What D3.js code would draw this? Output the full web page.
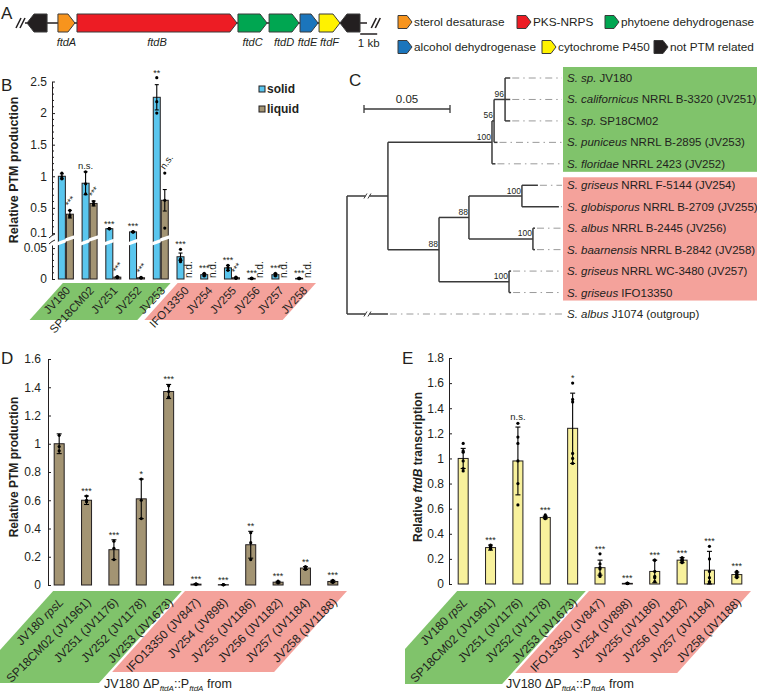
<!DOCTYPE html>
<html><head><meta charset="utf-8">
<script src="https://cdn.jsdelivr.net/npm/d3@7"></script>
<style>
html,body{margin:0;padding:0;background:#fff;}
svg{display:block;}
text{font-family:"Liberation Sans",Arial,Helvetica,sans-serif;fill:#231f20;}
</style></head><body>
<svg id="fig" width="757" height="695"></svg>
<script>
// ================= DATA =================
// Panel A: gene cluster (kb positions)
const geneLabels  = ["", "ftdA", "ftdB", "ftdC", "ftdD", "ftdE", "ftdF", ""];
const geneStartKb = [0, 1.82, 2.94, 12.41, 14.24, 16.06, 17.18, 18.41];
const geneEndKb   = [1.18, 2.82, 12.35, 14.12, 16.0, 17.12, 18.41, 19.59];
const geneStrand  = [-1, 1, 1, 1, 1, 1, 1, -1];
const geneClass   = ["other","sterol","pks","phyto","phyto","alcohol","p450","other"];
const legendClasses = ["sterol","pks","phyto","alcohol","p450","other"];
const legendLabels  = ["sterol desaturase","PKS-NRPS","phytoene dehydrogenase","alcohol dehydrogenase","cytochrome P450","not PTM related"];

// Panel B: relative PTM production, solid vs liquid
const strainsB   = ["JV180","SP18CM02","JV251","JV252","JV253","IFO13350","JV254","JV255","JV256","JV257","JV258"];
const solidB     = [1.0, 0.89, 0.17, 0.12, 2.25, 0.036, 0.007, 0.018, 0.001, 0.007, 0.001];
const solidSdB   = [0.04, 0.18, 0.003, 0.006, 0.2, 0.006, 0.002, 0.004, 0.0005, 0.002, 0.0005];
const solidDotsB = [[1.05,0.99,0.96],[1.07,0.88,0.72],[0.172,0.17,0.168],[0.126,0.12,0.114],[2.56,2.18,2.0],[0.048,0.032,0.028],[0.009,0.007,0.005],[0.022,0.018,0.014],[0.0015,0.001,0.0005],[0.009,0.007,0.005],[0.0015,0.001,0.0005]];
const liquidB    = [0.40, 0.57, 0.003, 0.002, 0.62, null, null, 0.002, null, null, null];
const liquidSdB  = [0.06, 0.04, 0.0008, 0.0005, 0.17, null, null, 0.0008, null, null, null];
const liquidDotsB= [[0.46,0.38,0.36],[0.6,0.56,0.55],[0.004,0.003,0.002],[0.0025,0.002,0.0015],[1.05,0.62,0.18],[],[],[0.003,0.002,0.001],[],[],[]];
const sigSolidB  = ["","n.s.","***","***","**","***","***","***","***","***","***"];
const sigLiquidB = ["***","***","***","***","n.s.","n.d.","n.d.","***","n.d.","n.d.","n.d."];
const ticksBUpper = [0.1, 0.5, 1, 1.5, 2, 2.5];
const ticksBLower = [0, 0.05];
const nativeGroupCount = 5;

// Panel C: tree leaves
const leafItalic = ["S. sp.","S. californicus","S. sp.","S. puniceus","S. floridae","S. griseus","S. globisporus","S. albus","S. baarnensis","S. griseus","S. griseus","S. albus"];
const leafRest   = ["JV180","NRRL B-3320 (JV251)","SP18CM02","NRRL B-2895 (JV253)","NRRL 2423 (JV252)","NRRL F-5144 (JV254)","NRRL B-2709 (JV255)","NRRL B-2445 (JV256)","NRRL B-2842 (JV258)","NRRL WC-3480 (JV257)","IFO13350","J1074 (outgroup)"];
const treeData = {children:[
  {len:0.0238, broken:true, children:[
    {len:0.0605, boot:"100", children:[
      {len:0.0012, boot:"56", children:[
        {len:0.0064, boot:"96", children:[{len:0.003, leaf:0},{len:0.003, leaf:1},{len:0.003, leaf:2}]},
        {len:0.002, leaf:3}]},
      {len:0.002, leaf:4}]},
    {len:0.0297, boot:"88", children:[
      {len:0.0174, boot:"88", children:[
        {len:0.0308, boot:"100", children:[{len:0.0093, leaf:5},{len:0.0215, leaf:6}]},
        {len:0.0372, boot:"100", children:[{len:0.0012, leaf:7},{len:0.0012, leaf:8}]}]},
      {len:0.0407, boot:"100", children:[{len:0.0012, leaf:9},{len:0.0012, leaf:10}]}]}]},
  {len:0.0238, broken:true, leaf:11}]};

// Panels D & E
const strainsDE = ["JV180 rpsL","SP18CM02 (JV1961)","JV251 (JV1176)","JV252 (JV1178)","JV253 (JV1673)","IFO13350 (JV847)","JV254 (JV898)","JV255 (JV1186)","JV256 (JV1182)","JV257 (JV1184)","JV258 (JV1188)"];
const valuesD = [1.0, 0.60, 0.25, 0.61, 1.37, 0.006, 0.002, 0.285, 0.02, 0.12, 0.025];
const sdD     = [0.07, 0.03, 0.07, 0.14, 0.05, 0.003, 0.001, 0.095, 0.006, 0.01, 0.008];
const dotsD   = [[1.06,0.98,0.95],[0.63,0.6,0.59],[0.31,0.26,0.18],[0.75,0.6,0.47],[1.41,1.37,1.33],[0.009,0.006,0.003],[0.003,0.002,0.001],[0.37,0.3,0.18],[0.027,0.02,0.014],[0.13,0.12,0.11],[0.033,0.025,0.018]];
const sigD    = ["","***","***","*","***","***","***","**","***","**","***"];
const ticksD  = [0,0.2,0.4,0.6,0.8,1,1.2,1.4,1.6];

const valuesE = [1.0, 0.29, 0.98, 0.53, 1.24, 0.13, 0.005, 0.10, 0.19, 0.11, 0.075];
const sdE     = [0.08, 0.02, 0.27, 0.01, 0.28, 0.06, 0.002, 0.09, 0.02, 0.15, 0.02];
const dotsE   = [[1.12,1.06,1.05,0.98,0.92,0.9],[0.31,0.3,0.29,0.29,0.28,0.28],[1.28,1.17,1.12,0.98,0.8,0.63],[0.55,0.54,0.535,0.53,0.53,0.52],[1.6,1.47,1.45,1.04,1.0,0.96],[0.24,0.16,0.13,0.12,0.08,0.06],[0.008,0.006,0.005,0.004,0.004,0.003],[0.19,0.19,0.1,0.06,0.05,0.02],[0.21,0.2,0.19,0.19,0.18,0.17],[0.3,0.2,0.1,0.05,0.02,0.01],[0.1,0.09,0.08,0.07,0.06,0.05]];
const sigE    = ["","***","n.s.","***","*","***","***","***","***","***","***"];
const ticksE  = [0,0.2,0.4,0.6,0.8,1,1.2,1.4,1.6,1.8];

// ================= STYLE =================
const COL = {sterol:"#f7941d", pks:"#ed1c24", phyto:"#00a651", alcohol:"#1b75bc", p450:"#fff200", other:"#231f20"};
const GREEN = "#80c36b", PINK = "#f4a29b";
const SOLID = "#5ac6ee", LIQUID = "#a39473", YELLOW = "#f8f19c";
const INK = "#231f20", SIG = "#555";

const svg = d3.select("#fig");
function panelLabel(t,x,y){ svg.append("text").attr("x",x).attr("y",y).attr("font-size",17).text(t); }
function rich(sel, parts){
  parts.forEach(p=>{
    const t = sel.append("tspan").text(p.t);
    if(p.i) t.attr("font-style","italic");
    if(p.b) t.attr("font-weight","bold");
    if(p.sub) t.attr("font-size",8).attr("dy",3);
    if(p.up) t.attr("dy",-3);
  });
  return sel;
}

// ================= PANEL A =================
panelLabel("A",1,19);
const xA = d3.scaleLinear().domain([0,1]).range([27,44]);
const yA = 23, hA = 9;
function arrowPath(x0,x1,strand,yc,h,head){
  const hd = Math.min(head,(x1-x0)*0.6);
  if(strand>0) return `M${x0},${yc-h}L${x1-hd},${yc-h}L${x1},${yc}L${x1-hd},${yc+h}L${x0},${yc+h}Z`;
  return `M${x1},${yc-h}L${x0+hd},${yc-h}L${x0},${yc}L${x0+hd},${yc+h}L${x1},${yc+h}Z`;
}
function slashes(x,y){
  [0,4].forEach(o=>svg.append("line").attr("x1",x+o-2.5).attr("y1",y+5).attr("x2",x+o+2.5).attr("y2",y-5)
     .attr("stroke",INK).attr("stroke-width",1.6));
}
const gA = svg.append("g");
gA.append("line").attr("x1",xA(-0.12)).attr("x2",xA(20.0)).attr("y1",yA).attr("y2",yA).attr("stroke",INK).attr("stroke-width",1.5);
slashes(xA(-0.5),yA); slashes(xA(20.4),yA);
gA.selectAll("path.gene").data(geneLabels).join("path").attr("class","gene")
  .attr("d",(d,i)=>arrowPath(xA(geneStartKb[i]),xA(geneEndKb[i]),geneStrand[i],yA,hA,7))
  .attr("fill",(d,i)=>COL[geneClass[i]]).attr("stroke","#3a3a3a").attr("stroke-width",1);
gA.selectAll("text.gl").data(geneLabels).join("text").attr("class","gl")
  .attr("x",(d,i)=>(xA(geneStartKb[i])+xA(geneEndKb[i]))/2 - (i===5?1.5:0)).attr("y",46)
  .attr("text-anchor","middle").attr("font-size",11).attr("font-style","italic").attr("fill","#333").text(d=>d);
gA.append("line").attr("x1",xA(19.6)).attr("x2",xA(20.6)).attr("y1",34).attr("y2",34).attr("stroke",INK).attr("stroke-width",1.5);
gA.append("text").attr("x",(xA(19.6)+xA(20.6))/2).attr("y",47).attr("text-anchor","middle").attr("font-size",11.5).text("1 kb");
const legX = [398,517,605,398,542,654], legY=[22,22,22,47,47,47];
legendClasses.forEach((c,i)=>{
  svg.append("path").attr("d",arrowPath(legX[i],legX[i]+14,1,legY[i],6.5,5)).attr("fill",COL[c]).attr("stroke","#3a3a3a").attr("stroke-width",1);
  svg.append("text").attr("x",legX[i]+16).attr("y",legY[i]+4).attr("font-size",11.8).text(legendLabels[i]);
});

// ================= PANEL B =================
panelLabel("B",1,91);
const axB = 52;
const xB = d3.scaleBand().domain(strainsB).range([54,315]);
const yBu = d3.scaleLinear().domain([0.08,2.5]).range([234.4,81.5]);
const yBl = d3.scaleLinear().domain([0,0.055]).range([279,245]);
const yB = v => v >= 0.07 ? yBu(v) : yBl(v);
const cB = s => xB(s)+xB.bandwidth()/2;

function para(x0,x1,yt,yb,slant,fill,clipX){
  const dx=(yb-yt)*slant;
  let poly=[[x0,yt],[x1,yt],[x1-dx,yb],[x0-dx,yb]];
  if(clipX!==undefined && x0-dx<clipX){
    const yc = yt+(x0-clipX)/slant;
    poly=[[x0,yt],[x1,yt],[x1-dx,yb],[clipX,yb],[clipX,yc]];
  }
  svg.append("path").attr("d","M"+poly.map(p=>p.join(",")).join("L")+"Z").attr("fill",fill);
}
para(cB(strainsB[0])-3, xB(strainsB[nativeGroupCount-1])+xB.bandwidth()-2, 283, 320, 0.9, GREEN);
para(xB(strainsB[nativeGroupCount])+5, xB(strainsB[10])+xB.bandwidth()+1, 283, 320, 0.9, PINK);

const axisU = d3.axisLeft(yBu).tickValues(ticksBUpper).tickFormat(d3.format("~g")).tickSizeInner(-3).tickSizeOuter(0).tickPadding(5);
const axisL = d3.axisLeft(yBl).tickValues(ticksBLower).tickFormat(d3.format("~g")).tickSizeInner(-3).tickSizeOuter(0).tickPadding(5);
[axisU,axisL].forEach(a=>{
  const g=svg.append("g").attr("transform",`translate(${axB},0)`).call(a);
  g.selectAll("text").attr("font-size",12).attr("fill",INK).attr("font-family","Liberation Sans, Arial, sans-serif");
  g.selectAll("line,path").attr("stroke",INK);
});
const minorU = d3.range(0.2,2.5,0.1).filter(v=>!ticksBUpper.some(t=>Math.abs(t-v)<1e-6));
const minorL = d3.range(0.01,0.05,0.01);
minorU.forEach(v=>svg.append("line").attr("x1",axB).attr("x2",axB+2).attr("y1",yBu(v)).attr("y2",yBu(v)).attr("stroke",INK));
minorL.forEach(v=>svg.append("line").attr("x1",axB).attr("x2",axB+2).attr("y1",yBl(v)).attr("y2",yBl(v)).attr("stroke",INK));
svg.append("path").attr("d",`M${axB-3},${238}q3,-3 6,-4 M${axB-3},${244}q3,-3 6,-4`).attr("fill","none").attr("stroke",INK).attr("stroke-width",1);

svg.append("text").attr("transform","translate(18,170) rotate(-90)").attr("text-anchor","middle")
  .attr("font-size",12.5).attr("font-weight","bold").text("Relative PTM production");

function drawBarB(c, x, v, sd, dots, fill){
  if(v===null) return;
  const w=7;
  svg.append("rect").attr("x",x).attr("y",yB(v)).attr("width",w).attr("height",yBl(0)-yB(v))
    .attr("fill",fill).attr("stroke",INK).attr("stroke-width",1);
  if(v>=0.07){
    const yl = 240+ (c-x)*0.45, yr = 240+(c-x-w)*0.45;
    svg.append("path").attr("d",`M${x-1},${yl-1.5}L${x+w+1},${yr-1.5}L${x+w+1},${yr+2}L${x-1},${yl+2}Z`).attr("fill","#fff");
  }
  const cx=x+w/2;
  const lo=Math.max(0,v-sd), hi=v+sd;
  svg.append("line").attr("x1",cx).attr("x2",cx).attr("y1",yB(lo)).attr("y2",yB(hi)).attr("stroke","#000").attr("stroke-width",1.1);
  [lo,hi].forEach(e=>svg.append("line").attr("x1",cx-2).attr("x2",cx+2).attr("y1",yB(e)).attr("y2",yB(e)).attr("stroke","#000").attr("stroke-width",1.1));
  dots.forEach(d=>svg.append("circle").attr("cx",cx).attr("cy",yB(d)).attr("r",1.6).attr("fill","#000"));
}
strainsB.forEach((s,i)=>{
  const c=cB(s);
  drawBarB(c, c-7.5, solidB[i], solidSdB[i], solidDotsB[i], SOLID);
  drawBarB(c, c+0.5, liquidB[i], liquidSdB[i], liquidDotsB[i], LIQUID);
  const topS = Math.min(yB(solidB[i]+solidSdB[i]), ...solidDotsB[i].map(yB));
  if(sigSolidB[i]) svg.append("text").attr("x",c-4).attr("y",topS-(sigSolidB[i]==="n.s."?3:2)).attr("text-anchor","middle")
    .attr("font-size",sigSolidB[i]==="n.s."?9.5:9).attr("fill",SIG).text(sigSolidB[i]);
  if(sigLiquidB[i]==="n.d."){
    svg.append("text").attr("transform",`translate(${c+7.5},278) rotate(-90)`).attr("font-size",10).attr("fill","#333").text("n.d.");
  } else if(liquidB[i]!==null){
    const topL = Math.min(yB(liquidB[i]+liquidSdB[i]), ...liquidDotsB[i].map(yB));
    svg.append("text").attr("transform",`translate(${c+4},${topL-3}) rotate(-55)`).attr("font-size",sigLiquidB[i]==="n.s."?9.5:9)
      .attr("fill",SIG).text(sigLiquidB[i]);
  }
  svg.append("text").attr("transform",`translate(${c+5},291) rotate(-47)`).attr("text-anchor","end").attr("font-size",11.5).text(s);
});
[["solid",SOLID,93],["liquid",LIQUID,113]].forEach(([t,f,y])=>{
  svg.append("rect").attr("x",259).attr("y",y-7).attr("width",6).attr("height",6).attr("fill",f).attr("stroke",INK).attr("stroke-width",1);
  svg.append("text").attr("x",267).attr("y",y).attr("font-size",12).attr("font-weight","bold").text(t);
});

// ================= PANEL C =================
panelLabel("C",349,86);
const xT = d3.scaleLinear().domain([0,0.05]).range([347,433]);
const yLeaf = d3.scalePoint().domain(d3.range(leafItalic.length)).range([78,314]);
const labelX = 563;
svg.append("rect").attr("x",labelX).attr("y",yLeaf(0)-11).attr("width",757-labelX).attr("height",yLeaf(4)-yLeaf(0)+19).attr("fill",GREEN);
svg.append("rect").attr("x",labelX).attr("y",yLeaf(5)-8).attr("width",757-labelX).attr("height",yLeaf(10)-yLeaf(5)+16).attr("fill",PINK);
const root = d3.hierarchy(treeData);
root.eachBefore(n=>{ n.dist = n.parent ? n.parent.dist + n.data.len : 0; });
root.eachAfter(n=>{ n.yy = n.children ? (n.children[0].yy + n.children[n.children.length-1].yy)/2 : yLeaf(n.data.leaf); });
const gT = svg.append("g");
root.descendants().forEach(n=>{
  if(n.children){
    gT.append("line").attr("x1",xT(n.dist)).attr("x2",xT(n.dist)).attr("y1",n.children[0].yy).attr("y2",n.children[n.children.length-1].yy)
      .attr("stroke","#3a3a3a").attr("stroke-width",1.5);
  }
  if(n.parent){
    gT.append("line").attr("x1",xT(n.parent.dist)).attr("x2",xT(n.dist)).attr("y1",n.yy).attr("y2",n.yy)
      .attr("stroke","#3a3a3a").attr("stroke-width",1.5);
    if(n.data.broken){
      const bx = (xT(n.parent.dist)+xT(n.dist))/2;
      gT.append("rect").attr("x",bx-2).attr("y",n.yy-3).attr("width",4).attr("height",6).attr("fill","#fff");
      [-2,2].forEach(o=>gT.append("line").attr("x1",bx+o-1.5).attr("x2",bx+o+1.5).attr("y1",n.yy+2.5).attr("y2",n.yy-2.5).attr("stroke","#3a3a3a").attr("stroke-width",1));
    }
  }
  if(n.data.boot){
    gT.append("text").attr("x",xT(n.dist)-1).attr("y",n.yy-2.5).attr("text-anchor","end").attr("font-size",8.5).attr("fill","#333").text(n.data.boot);
  }
  if(!n.children){
    gT.append("line").attr("x1",xT(n.dist)+2).attr("x2",labelX-1).attr("y1",n.yy).attr("y2",n.yy)
      .attr("stroke","#9a9a9a").attr("stroke-width",1).attr("stroke-dasharray","7,4,1.5,4");
    const t = gT.append("text").attr("x",labelX+4).attr("y",n.yy+4).attr("font-size",11.5);
    rich(t,[{t:leafItalic[n.data.leaf],i:true},{t:" "+leafRest[n.data.leaf]}]);
  }
});
const sbL = xT(0.05)-xT(0);
svg.append("line").attr("x1",364).attr("x2",364+sbL).attr("y1",109).attr("y2",109).attr("stroke","#3a3a3a").attr("stroke-width",1.3);
[364,364+sbL].forEach(x=>svg.append("line").attr("x1",x).attr("x2",x).attr("y1",105).attr("y2",113).attr("stroke","#3a3a3a").attr("stroke-width",1.3));
svg.append("text").attr("x",364+sbL/2).attr("y",103).attr("text-anchor","middle").attr("font-size",11.5).text("0.05");

// ================= PANELS D & E =================
function barPanel(o){
  panelLabel(o.letter,o.lx,364);
  const x = d3.scaleBand().domain(strainsDE).range(o.xr);
  const y = d3.scaleLinear().domain(o.ydom).range(o.yr);
  const c = s => x(s)+x.bandwidth()/2;
  para(c(strainsDE[0])-6, x(strainsDE[4])+x.bandwidth()-0.5, 591, o.gBottom, 0.9, GREEN, o.clipX);
  para(c(strainsDE[5])-11, x(strainsDE[10])+x.bandwidth()+0.5, 591, o.rBottom, 0.9, PINK);
  const ax = d3.axisLeft(y).tickValues(o.ticks).tickFormat(d3.format("~g")).tickSizeInner(-3).tickSizeOuter(0).tickPadding(o.pad);
  const g = svg.append("g").attr("transform",`translate(${o.axX},0)`).call(ax);
  g.selectAll("text").attr("font-size",12).attr("fill",INK).attr("font-family","Liberation Sans, Arial, sans-serif");
  g.selectAll("line,path").attr("stroke",INK);
  const yl = svg.append("text").attr("transform",`translate(${o.ylx},467) rotate(-90)`).attr("text-anchor","middle").attr("font-size",12).attr("font-weight","bold");
  rich(yl,o.ylab);
  strainsDE.forEach((s,i)=>{
    const cx=c(s), w=10, v=o.vals[i], sd=o.sds[i];
    svg.append("rect").attr("x",cx-w/2).attr("y",y(v)).attr("width",w).attr("height",y(0)-y(v))
      .attr("fill",o.fill).attr("stroke",INK).attr("stroke-width",1);
    const lo=Math.max(0,v-sd), hi=v+sd;
    svg.append("line").attr("x1",cx).attr("x2",cx).attr("y1",y(lo)).attr("y2",y(hi)).attr("stroke","#000").attr("stroke-width",1.1);
    [lo,hi].forEach(e=>svg.append("line").attr("x1",cx-2.5).attr("x2",cx+2.5).attr("y1",y(e)).attr("y2",y(e)).attr("stroke","#000").attr("stroke-width",1.1));
    o.dots[i].forEach(d=>svg.append("circle").attr("cx",cx).attr("cy",y(d)).attr("r",1.6).attr("fill","#000"));
    const top = Math.min(y(hi), ...o.dots[i].map(y));
    if(o.sigs[i]) svg.append("text").attr("x",cx).attr("y",top-(o.sigs[i]==="n.s."?3:2)).attr("text-anchor","middle")
      .attr("font-size",o.sigs[i]==="n.s."?9.5:9).attr("fill",SIG).text(o.sigs[i]);
    const t = svg.append("text").attr("transform",`translate(${cx+5},603) rotate(-45)`).attr("text-anchor","end").attr("font-size",12);
    if(s.endsWith(" rpsL")) rich(t,[{t:s.replace(" rpsL"," ")},{t:"rpsL",i:true}]);
    else t.text(s);
  });
  const xl = svg.append("text").attr("x",o.xlc).attr("y",688).attr("text-anchor","middle").attr("font-size",12.5);
  rich(xl,[{t:"JV180 ΔP"},{t:"ftdA",i:true,sub:true},{t:"::P",up:true},{t:"ftdA",i:true,sub:true},{t:" from",up:true}]);
}
barPanel({letter:"D",lx:1,xr:[45.5,346.5],axX:48,ydom:[0,1.6],yr:[585,359],ticks:ticksD,pad:7,ylx:18,
  ylab:[{t:"Relative PTM production"}],vals:valuesD,sds:sdD,dots:dotsD,sigs:sigD,fill:LIQUID,
  gBottom:683,rBottom:672,clipX:0,xlc:168});
barPanel({letter:"E",lx:402,xr:[449.5,750.5],axX:449,ydom:[0,1.8],yr:[584,358],ticks:ticksE,pad:5,ylx:422,
  ylab:[{t:"Relative "},{t:"ftdB",i:true},{t:" transcription"}],vals:valuesE,sds:sdE,dots:dotsE,sigs:sigE,fill:YELLOW,
  gBottom:684,rBottom:673,clipX:405,xlc:570});
</script></body></html>
